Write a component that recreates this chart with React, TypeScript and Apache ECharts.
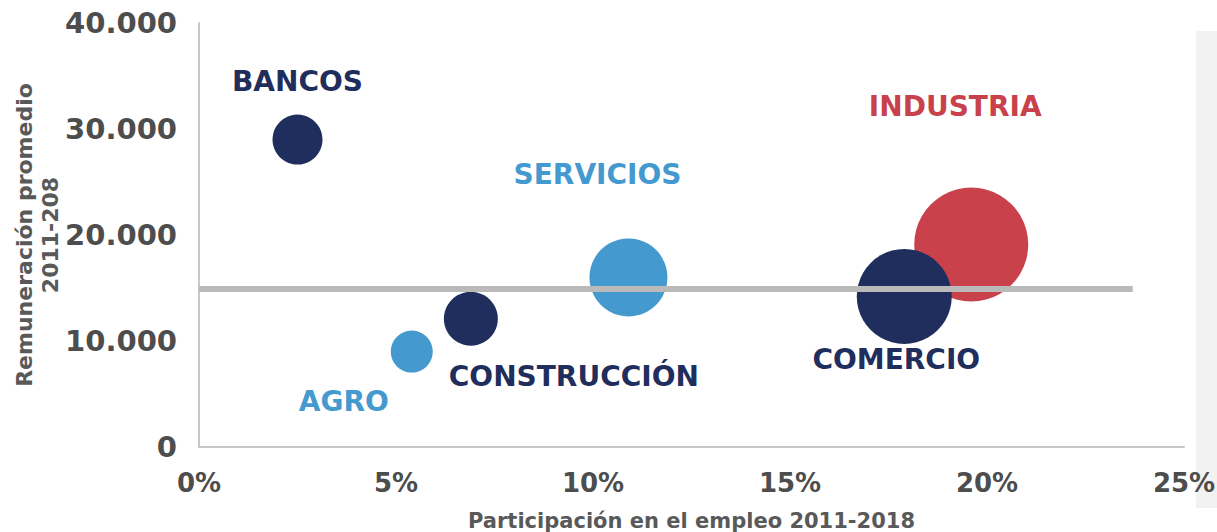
import React, { useEffect, useRef } from "react";
import * as echarts from "echarts";

// Data
const categories = ["BANCOS", "AGRO", "CONSTRUCCIÓN", "SERVICIOS", "INDUSTRIA", "COMERCIO"];
const employmentShare = [2.5, 5.4, 6.9, 10.9, 19.6, 17.9]; // % of employment 2011-2018
const averagePay = [29000, 9000, 12100, 16000, 19100, 14200]; // average remuneration
const bubbleSize = [50, 42, 54, 78, 114, 95];
const averageLine = [
  [0, 14900],
  [23.7, 14900],
];
const xTicks = [0, 5, 10, 15, 20, 25];
const yTicks = [0, 10000, 20000, 30000, 40000];

const NAVY = "#1f2e5c";
const BLUE = "#4499cf";
const RED = "#c8414b";
const colors = [NAVY, BLUE, NAVY, BLUE, RED, NAVY];
const labelOffsets: [number, number][] = [
  [0, -58],
  [-68, 50],
  [103, 58],
  [-31, -103],
  [-16, -138],
  [-8, 63],
];

const FONT = "DejaVu Sans";

function fmtThousands(v: number) {
  return String(v).replace(/\B(?=(\d{3})+(?!\d))/g, ".");
}

export default function App() {
  const ref = useRef<HTMLDivElement>(null);
  useEffect(() => {
    if (!ref.current) return;
    const chart = echarts.init(ref.current, undefined, { renderer: "svg" });
    const points = categories.map((name, i) => ({
      name,
      value: [employmentShare[i], averagePay[i], bubbleSize[i]],
      itemStyle: { color: colors[i], opacity: 1 },
      label: {
        show: true,
        position: "inside",
        offset: labelOffsets[i],
        formatter: name,
        color: colors[i],
        fontFamily: FONT,
        fontWeight: "bold",
        fontSize: 28,
      },
    }));
    chart.setOption({
      animation: false,
      backgroundColor: "#ffffff",
      grid: {
        left: 199,
        right: 33,
        top: 23,
        bottom: 85,
        containLabel: false,
        outerBoundsMode: "none",
      },
      graphic: [
        {
          type: "rect",
          z: -10,
          silent: true,
          shape: { x: 1196, y: 31, width: 21, height: 477 },
          style: { fill: "#f2f2f2" },
        },
      ],
      xAxis: {
        type: "value",
        min: xTicks[0],
        max: xTicks[xTicks.length - 1],
        interval: 5,
        name: "Participación en el empleo 2011-2018",
        nameLocation: "middle",
        nameGap: 63,
        nameMoveOverlap: false,
        nameTextStyle: { color: "#595959", fontFamily: FONT, fontWeight: "bold", fontSize: 21 },
        axisLine: { show: true, lineStyle: { color: "#c8c8c8", width: 2 } },
        axisTick: { show: false },
        splitLine: { show: false },
        axisLabel: {
          formatter: (v: number) => v + "%",
          color: "#4d4d4d",
          fontFamily: FONT,
          fontWeight: "bold",
          fontSize: 26,
          margin: 23,
        },
      },
      yAxis: {
        type: "value",
        min: yTicks[0],
        max: yTicks[yTicks.length - 1],
        interval: 10000,
        name: "Remuneración promedio\n2011-208",
        nameLocation: "middle",
        nameGap: 136,
        nameRotate: 90,
        nameMoveOverlap: false,
        nameTextStyle: {
          color: "#595959",
          fontFamily: FONT,
          fontWeight: "bold",
          fontSize: 22,
          lineHeight: 26,
          align: "center",
        },
        axisLine: { show: true, lineStyle: { color: "#c8c8c8", width: 2 } },
        axisTick: { show: false },
        splitLine: { show: false },
        axisLabel: {
          formatter: (v: number) => fmtThousands(v),
          color: "#4d4d4d",
          fontFamily: FONT,
          fontWeight: "bold",
          fontSize: 29,
          margin: 22,
        },
      },
      series: [
        {
          type: "scatter",
          z: 2,
          symbol: "circle",
          symbolSize: (val: number[]) => val[2],
          data: points,
          emphasis: { disabled: true },
        },
        {
          type: "line",
          z: 5,
          data: averageLine,
          symbol: "none",
          lineStyle: { color: "#bababa", width: 6 },
          silent: true,
        },
      ],
    });
    return () => chart.dispose();
  }, []);
  return (
    <div
      ref={ref}
      style={{ position: "fixed", left: 0, top: 0, width: 1217, height: 532 }}
    />
  );
}
